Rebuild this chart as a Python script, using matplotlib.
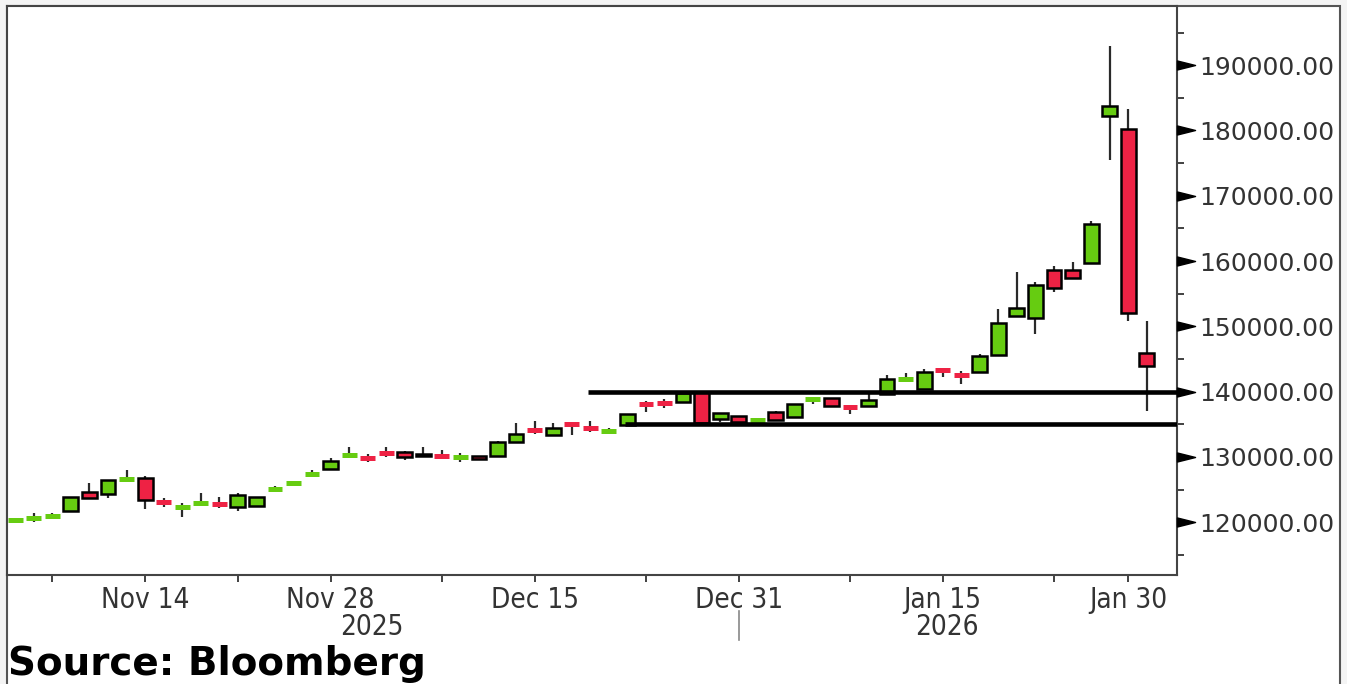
import numpy as np
import pandas as pd
import matplotlib
matplotlib.use("Agg")
import matplotlib.pyplot as plt
from matplotlib import font_manager
from matplotlib.path import Path
from matplotlib.patches import Rectangle
import matplotlib.transforms as mtransforms

# trading days shown (MCX, holidays skipped)
dates = pd.bdate_range("2025-11-05", "2026-02-02", freq="C",
                       holidays=["2025-12-25", "2026-01-26"])

opens = [120250, 120600, 120900, 121730, 124640, 124330, 126550, 126780, 123150, 122300,
         122900, 122850, 122340, 122500, 125050, 125950, 127350, 128160, 130250, 129900,
         130620, 130810, 130150, 130200, 129900, 130180, 130150, 132290, 134200, 133370,
         135100, 134500, 134000, 134900, 138120, 138270, 138460, 139950, 135770, 136270,
         135600, 136930, 136080, 138780, 138980, 137750, 137810, 139640, 141950, 140360,
         143370, 142650, 143060, 145610, 151580, 151230, 158630, 158630, 159740, 182220,
         180260, 145970]
highs = [120450, 121420, 121420, 123950, 126020, 126550, 128000, 127090, 123720, 122950,
         124490, 123870, 124490, 123950, 125560, 126320, 128000, 129840, 131500, 130460,
         131530, 130860, 131530, 131060, 130570, 130220, 132400, 135210, 135530, 135210,
         135250, 135530, 134440, 136650, 138570, 138830, 139800, 140050, 136750, 136300,
         135750, 137000, 138150, 138900, 139050, 137960, 139750, 142550, 142810, 143420,
         143400, 143210, 145720, 152610, 158370, 156840, 159290, 159810, 166170, 192920,
         183230, 150820]
lows = [120200, 120050, 120900, 121700, 123650, 123720, 126500, 122040, 122340, 120810,
        122850, 122190, 121730, 122450, 125000, 125900, 127300, 128100, 130200, 129230,
        129990, 129540, 130100, 130050, 129230, 129600, 130100, 132250, 133550, 133300,
        133370, 133830, 133750, 134850, 136930, 137450, 138400, 135100, 135400, 135350,
        135550, 135600, 136050, 138110, 137750, 136590, 137750, 139600, 141900, 140300,
        142200, 141170, 143000, 145550, 151500, 148780, 155210, 157300, 159700, 175470,
        150860, 137090]
closes = [120400, 120700, 121000, 123870, 123720, 126480, 126700, 123410, 123050, 122400,
          123000, 122750, 124180, 123870, 125150, 126050, 127450, 129390, 130400, 129800,
          130520, 129950, 130500, 130100, 130000, 129680, 132340, 133520, 134100, 134440,
          135000, 134400, 134100, 136590, 138020, 138170, 139730, 135160, 136690, 135400,
          135700, 135660, 138110, 138880, 137810, 137650, 138720, 141890, 142050, 143060,
          143270, 142550, 145460, 150470, 152860, 156330, 155920, 157350, 165620, 183740,
          152090, 143930]

# support / resistance lines drawn on the chart
level_values = [140000, 135000]
level_start_idx = [30.9, 32.85]

label_dates = ["2025-11-14", "2025-11-28", "2025-12-15", "2025-12-31", "2026-01-15", "2026-01-30"]
minor_dates = ["2025-11-07", "2025-11-21", "2025-12-08", "2025-12-23", "2026-01-08", "2026-01-23"]

GREEN = "#66cc11"
RED = "#ee2244"
TXT = "#333333"


def narrow_font(size):
    # prefer a condensed face for the date axis, like the terminal's font
    wanted = ["DejaVuSansCondensed.ttf", "LiberationSansNarrow-Regular.ttf",
              "RobotoCondensed-Regular.ttf"]
    for w in wanted:
        for f in font_manager.fontManager.ttflist:
            if f.fname.endswith(w):
                return font_manager.FontProperties(fname=f.fname, size=size)
    return font_manager.FontProperties(family="DejaVu Sans", size=size * 0.9)


def main():
    W, H = 1347, 684
    fig = plt.figure(figsize=(W / 100, H / 100), dpi=100)
    fig.patch.set_facecolor("#f4f4f4")
    fig.patches.append(Rectangle((7 / W, -0.02), (1340 - 7) / W, 1.02 - 5.7 / H,
                                 transform=fig.transFigure, facecolor="white",
                                 edgecolor="#555555", lw=1.5, zorder=-5))

    ax = fig.add_axes([6.7 / W, 1 - 575 / H, (1177 - 6.7) / W, (575 - 5.7) / H])
    ax.set_zorder(2)
    ax.set_facecolor("white")

    x = np.arange(len(dates))
    o = np.array(opens, float)
    c = np.array(closes, float)
    hi = np.array(highs, float)
    lo = np.array(lows, float)
    up = c >= o
    cols = np.where(up, GREEN, RED)
    doji = np.abs(c - o) <= 200
    w = 0.8

    ax.vlines(x, lo, hi, color="#2a2a2a", lw=1.6, zorder=1)
    body = ~doji
    ax.bar(x[body], np.abs(c - o)[body], bottom=np.minimum(o, c)[body], width=w,
           color=cols[body], edgecolor="black", lw=1.8, zorder=2)
    ax.hlines((o[doji] + c[doji]) / 2, x[doji] - w / 2, x[doji] + w / 2,
              color=cols[doji], lw=3.6, zorder=2)

    xmin, xmax = -0.46, 62.63
    for lv, st in zip(level_values, level_start_idx):
        ax.hlines(lv, st, xmax, color="black", lw=3.3, zorder=3)

    ax.set_xlim(xmin, xmax)
    ax.set_ylim(111930, 199110)

    # y axis on the right with arrow pointers
    ax.yaxis.tick_right()
    yt = np.arange(120000, 200000, 10000)
    ax.set_yticks(yt)
    ax.set_yticklabels([f"{v:.2f}" for v in yt], fontsize=18, color=TXT)
    ax.set_yticks(np.arange(115000, 200000, 10000), minor=True)
    ax.tick_params(axis="y", which="major", length=0, pad=16)
    ax.tick_params(axis="y", which="minor", length=5, width=1.3, color="#333333")
    tri = Path([(0, -0.25), (1, 0), (0, 0.25), (0, -0.25)],
               [Path.MOVETO, Path.LINETO, Path.LINETO, Path.CLOSEPOLY])
    trans = mtransforms.blended_transform_factory(ax.transAxes, ax.transData)
    ax.plot(np.ones(len(yt)), yt, ls="none", marker=tri, ms=26, color="black",
            transform=trans, clip_on=False, zorder=5)

    # date axis
    idx = {d.strftime("%Y-%m-%d"): i for i, d in enumerate(dates)}
    major = [idx[d] for d in label_dates]
    minor = [idx[d] for d in minor_dates]
    ax.set_xticks(major)
    fp = narrow_font(20)
    labs = [pd.Timestamp(d).strftime("%b ") + str(pd.Timestamp(d).day) for d in label_dates]
    ax.set_xticklabels(labs, fontproperties=fp, color=TXT)
    ax.set_xticks(minor, minor=True)
    ax.tick_params(axis="x", which="both", length=5, width=1.3, color="#333333", pad=3)

    # year labels centred on each year's part of the axis
    years = dates.year
    tx = mtransforms.blended_transform_factory(ax.transData, fig.transFigure)
    for yr in sorted(set(years)):
        ii = np.where(years == yr)[0]
        a = max(ii[0] - 0.5, xmin)
        b = min(ii[-1] + 0.5, xmax)
        ax.text((a + b) / 2 - 0.3, 1 - 627 / H, str(yr), transform=tx, ha="center",
                va="center", fontproperties=fp, color=TXT, clip_on=False)
    last25 = np.where(years == 2025)[0][-1]
    ax.plot([last25, last25], [1 - 611 / H, 1 - 640 / H], transform=tx, color="#888888",
            lw=1.2, clip_on=False)

    for s in ax.spines.values():
        s.set_color("#444444")
        s.set_linewidth(1.5)

    fig.text(8 / W, 1 - 664 / H, "Source: Bloomberg", fontsize=28, fontweight="bold",
             color="black", ha="left", va="center")

    fig.savefig("out.png", dpi=100, facecolor=fig.get_facecolor())


if __name__ == "__main__":
    main()
